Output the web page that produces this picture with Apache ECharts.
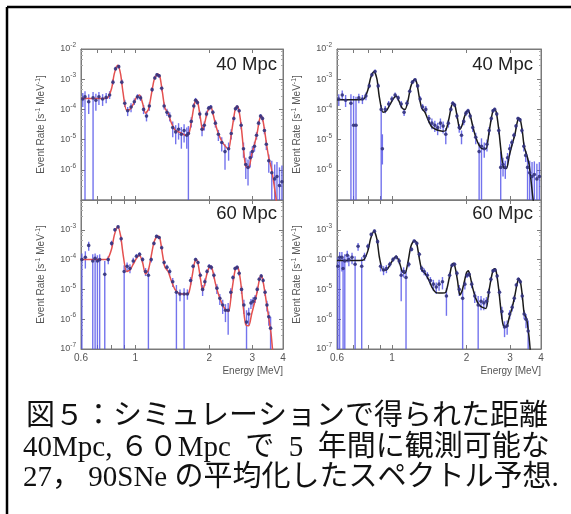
<!DOCTYPE html>
<html><head><meta charset="utf-8">
<script src="https://cdn.jsdelivr.net/npm/echarts@6.0.0/dist/echarts.min.js"></script>
<style>html,body{margin:0;padding:0;background:#fff}#c{width:571px;height:514px}</style>
</head><body><div id="c"></div><script>
// ---------- data ----------
const modelE = [0.60,0.65,0.70,0.74,0.77,0.80,0.82,0.847,0.87,0.89,0.92,0.95,0.98,1.01,1.04,1.07,1.10,1.13,1.16,1.19,1.215,1.238,1.26,1.29,1.32,1.36,1.40,1.45,1.50,1.55,1.60,1.65,1.70,1.74,1.771,1.80,1.84,1.88,1.92,1.96,2.00,2.034,2.07,2.12,2.18,2.25,2.32,2.40,2.46,2.52,2.56,2.598,2.64,2.70,2.76,2.82,2.90,2.98,3.06,3.14,3.20,3.253,3.30,3.36,3.42,3.50,3.58,3.65,3.72,3.80];

const model40Red = [2.3e-4,2.3e-4,2.3e-4,2.3e-4,2.4e-4, 5.0e-4,1.5e-3,2.9e-3,1.5e-3,3.7e-4, 9.5e-5,1.0e-4,1.5e-4,2.5e-4,3.0e-4, 1.6e-4,7.5e-5,1.0e-4,2.9e-4,9.0e-4, 1.3e-3,1.5e-3,1.2e-3,3.5e-4,1.1e-4, 7.5e-5,3.7e-5,2.1e-5,1.8e-5,1.6e-5, 1.4e-5,1.5e-5,5.0e-5,1.5e-4,2.1e-4, 1.6e-4,5.4e-5,2.0e-5,3.7e-5,7.6e-5, 1.1e-4,1.2e-4,7.6e-5,3.3e-5,1.6e-5, 9.0e-6,6.2e-6,4.8e-6,1.5e-5,5.4e-5, 1.1e-4,1.26e-4,1.0e-4,2.9e-5,4.8e-6, 1.3e-6,1.2e-6,3.2e-6,6.9e-6,1.7e-5, 4.2e-5,6.2e-5,5.0e-5,2.2e-5,7.9e-6, 2.5e-6,1.2e-6,4.8e-7,1.7e-7,5e-8];

const model40Black = [2.1e-4,2.1e-4,2.1e-4,2.1e-4,2.2e-4, 4.5e-4,1.1e-3,1.8e-3,1.0e-3,2.5e-4, 8.0e-5,9.0e-5,1.4e-4,2.2e-4,2.8e-4, 1.8e-4,1.1e-4,1.0e-4,1.9e-4,5.5e-4, 8.5e-4,9.8e-4,7.5e-4,2.5e-4,1.1e-4, 8.0e-5,4.5e-5,2.6e-5,2.2e-5,2.0e-5, 1.9e-5,2.0e-5,5.0e-5,1.3e-4,1.6e-4, 1.3e-4,5.0e-5,2.2e-5,3.0e-5,5.5e-5, 8.5e-5,9.0e-5,6.5e-5,2.8e-5,1.2e-5, 6.5e-6,5.0e-6,5.0e-6,1.5e-5,5.0e-5, 9.0e-5,1.0e-4,8.0e-5,2.2e-5,4.0e-6, 1.2e-6,1.1e-6,3.0e-6,7.0e-6,1.5e-5, 3.5e-5,5.2e-5,4.5e-5,2.0e-5,6.0e-6, 3.2e-6,1.5e-6,4.0e-7,1.0e-7,4e-8];

const model60Red = [1.0e-4,1.0e-4,1.0e-4,1.0e-4,1.05e-4, 2.3e-4,6.5e-4,1.3e-3,6.5e-4,1.6e-4, 4.0e-5,4.5e-5,7.0e-5,1.1e-4,1.4e-4, 8.0e-5,3.3e-5,4.5e-5,1.3e-4,3.8e-4, 5.5e-4,6.2e-4,5.0e-4,1.5e-4,5.5e-5, 4.0e-5,2.0e-5,1.0e-5,7.5e-6,7.0e-6, 7.0e-6,7.5e-6,2.5e-5,7.5e-5,1.0e-4, 7.5e-5,2.5e-5,9.0e-6,1.6e-5,3.5e-5, 5.5e-5,6.0e-5,4.0e-5,1.6e-5,7.0e-6, 3.5e-6,2.2e-6,1.8e-6,6.5e-6,2.5e-5, 5.0e-5,5.8e-5,4.5e-5,1.3e-5,2.2e-6, 6.5e-7,6.0e-7,1.5e-6,3.5e-6,8.5e-6, 2.0e-5,2.9e-5,2.3e-5,1.0e-5,3.8e-6, 1.1e-6,3.0e-7,6e-8,4e-8,3e-8];

const model60Black = [9.3e-5,9.3e-5,9.3e-5,9.3e-5,9.8e-5, 2.0e-4,5.0e-4,9.0e-4,4.8e-4,1.2e-4, 4.5e-5,4.5e-5,6.5e-5,1.0e-4,1.3e-4, 8.5e-5,4.0e-5,3.5e-5,8.0e-5,2.6e-4, 3.9e-4,4.3e-4,3.4e-4,1.1e-4,4.5e-5, 3.5e-5,2.3e-5,1.2e-5,8.0e-6,7.5e-6, 7.5e-6,8.0e-6,2.2e-5,6.0e-5,7.5e-5, 5.5e-5,2.0e-5,6.5e-6,9.0e-6,1.8e-5, 3.6e-5,4.2e-5,2.8e-5,1.1e-5,5.0e-6, 3.0e-6,2.5e-6,2.3e-6,8.0e-6,2.5e-5, 4.3e-5,4.9e-5,3.8e-5,1.0e-5,1.8e-6, 6.0e-7,5.5e-7,1.2e-6,2.5e-6,6.5e-6, 1.5e-5,2.3e-5,1.9e-5,6.5e-6,1.6e-6, 1.0e-6,2.5e-7,5e-8,4e-8,3e-8];

// simulated data points: [energy, rate, lower, upper]  (lower 1e-8 = bar reaches the bottom)
const pts40Red = [
[0.61,2.2e-4,1.2e-4,3.5e-4],[0.623,2.6e-4,1e-8,4.0e-4],[0.645,1.8e-4,7e-5,3.2e-4],[0.672,2.4e-4,1e-8,3.8e-4],[0.69,2.0e-4,9e-5,3.3e-4],
[0.71,2.6e-4,1.4e-4,3.8e-4],[0.735,2.2e-4,1.3e-4,3.2e-4],[0.76,2.5e-4,1.6e-4,3.5e-4],[0.785,3.0e-4,2.2e-4,4.0e-4],[0.81,8e-4,6.5e-4,1e-3],
[0.83,2.2e-3,1.9e-3,2.6e-3],[0.855,2.6e-3,2.3e-3,3.0e-3],[0.88,8e-4,6.5e-4,1e-3],[0.905,1.6e-4,1.2e-4,2.1e-4],[0.93,9e-5,6e-5,1.2e-4],
[0.96,1.2e-4,8e-5,1.6e-4],[0.99,1.8e-4,1.4e-4,2.3e-4],[1.02,2.6e-4,2.1e-4,3.2e-4],[1.05,2.4e-4,1.9e-4,3.0e-4],[1.08,1.0e-4,7e-5,1.4e-4],
[1.11,6e-5,4e-5,8.5e-5],[1.14,1.3e-4,9e-5,1.7e-4],[1.17,4.5e-4,3.8e-4,5.5e-4],[1.2,1.1e-3,9.5e-4,1.3e-3],[1.225,1.4e-3,1.2e-3,1.6e-3],
[1.25,1.3e-3,1.1e-3,1.5e-3],[1.28,5e-4,4e-4,6e-4],[1.31,1.3e-4,1e-4,1.7e-4],[1.345,8e-5,6e-5,1.05e-4],[1.38,6e-5,4e-5,8e-5],
[1.42,2.5e-5,1.2e-5,4e-5],[1.46,1.8e-5,7e-6,3e-5],[1.5,2.2e-5,1e-5,3.5e-5],[1.54,1.5e-5,5e-6,2.6e-5],[1.58,2.0e-5,8e-6,3.2e-5],
[1.62,1.4e-5,5e-6,2.5e-5],[1.645,1.6e-5,1e-8,2.8e-5],[1.69,4e-5,2.5e-5,5.5e-5],[1.73,1.3e-4,1.05e-4,1.6e-4],[1.76,2.0e-4,1.7e-4,2.4e-4],
[1.79,1.7e-4,1.4e-4,2.0e-4],[1.83,7e-5,5e-5,9e-5],[1.87,2.2e-5,1.3e-5,3e-5],[1.91,3e-5,2e-5,4e-5],[1.95,7e-5,5.5e-5,9e-5],
[1.99,1.1e-4,9e-5,1.3e-4],[2.03,1.2e-4,1e-4,1.4e-4],[2.07,8e-5,6.5e-5,9.5e-5],[2.12,3.5e-5,2.5e-5,4.5e-5],[2.18,1.5e-5,9e-6,2.1e-5],
[2.25,8e-6,4e-6,1.2e-5],[2.32,4e-6,1e-6,7e-6],[2.4,5e-6,2e-6,8e-6],[2.46,1.6e-5,1e-5,2.2e-5],[2.52,5e-5,4e-5,6e-5],
[2.56,1.05e-4,9e-5,1.2e-4],[2.6,1.2e-4,1e-4,1.4e-4],[2.65,9e-5,7.5e-5,1.05e-4],[2.7,3e-5,2.2e-5,3.8e-5],[2.76,5e-6,2.5e-6,8e-6],
[2.82,1.5e-6,5e-7,2.5e-6],[2.88,1.2e-6,3e-7,2.2e-6],[2.94,2.5e-6,1.2e-6,4e-6],[3.0,4e-6,2.5e-6,6e-6],[3.06,6e-6,4e-6,8.5e-6],
[3.12,1.4e-5,1e-5,1.8e-5],[3.18,3.5e-5,2.8e-5,4.2e-5],[3.24,6e-5,5e-5,7e-5],[3.3,5e-5,4e-5,6e-5],[3.36,2e-5,1.5e-5,2.6e-5],
[3.42,7e-6,4.5e-6,9.5e-6],[3.5,2e-6,8e-7,3.2e-6],[3.6,8e-7,1e-8,2e-6],[3.7,5e-7,1e-8,1.5e-6],[3.78,6e-7,1e-8,1.8e-6],
[3.87,3e-7,1e-8,1.2e-6],[3.96,4e-7,1e-8,1.4e-6]];

const pts40Black = [
[0.61,2.2e-4,1.3e-4,3.2e-4],[0.63,3.0e-4,2.0e-4,4.2e-4],[0.65,2.0e-4,1.2e-4,3.0e-4],[0.683,1.6e-4,1e-8,3.2e-4],[0.70,3.0e-5,1e-8,2.8e-4],
[0.716,3.0e-5,1e-8,2.6e-4],[0.735,2.4e-4,1.6e-4,3.3e-4],[0.76,2.2e-4,1.5e-4,3.0e-4],[0.785,2.8e-4,2e-4,3.6e-4],[0.81,6e-4,5e-4,7.2e-4],
[0.83,1.4e-3,1.2e-3,1.65e-3],[0.855,1.8e-3,1.55e-3,2.1e-3],[0.88,6e-4,5e-4,7.2e-4],[0.905,1.0e-4,1e-8,1.4e-4],[0.915,5e-6,1.5e-6,1.5e-5],
[0.94,1.0e-4,7.5e-5,1.3e-4],[0.97,1.5e-4,1.2e-4,1.9e-4],[1.0,2.2e-4,1.8e-4,2.7e-4],[1.03,3.0e-4,2.5e-4,3.6e-4],[1.06,2.4e-4,1.9e-4,2.9e-4],
[1.09,1.5e-4,1.1e-4,1.9e-4],[1.12,8e-5,6e-5,1.05e-4],[1.15,1.6e-4,1.3e-4,2e-4],[1.18,4e-4,3.4e-4,4.7e-4],[1.21,8e-4,7e-4,9.2e-4],
[1.24,9.5e-4,8.4e-4,1.08e-3],[1.27,6e-4,5.2e-4,7e-4],[1.3,2.2e-4,1.8e-4,2.7e-4],[1.33,1.2e-4,9e-5,1.5e-4],[1.37,1.0e-4,7.5e-5,1.3e-4],
[1.41,5e-5,3.5e-5,6.5e-5],[1.45,3.5e-5,2.2e-5,5e-5],[1.49,3.0e-5,1.8e-5,4.2e-5],[1.53,2.5e-5,1.4e-5,3.6e-5],[1.57,3.5e-5,2.2e-5,5e-5],
[1.61,2.8e-5,1.6e-5,4e-5],[1.65,1.5e-5,7e-6,2.4e-5],[1.69,3.5e-5,2.5e-5,4.5e-5],[1.73,1.0e-4,8.5e-5,1.2e-4],[1.76,1.6e-4,1.4e-4,1.85e-4],
[1.79,1.4e-4,1.2e-4,1.65e-4],[1.83,6e-5,4.8e-5,7.5e-5],[1.87,2.5e-5,1.7e-5,3.3e-5],[1.91,1.4e-5,7e-6,2e-5],[1.95,4e-5,3e-5,5e-5],
[1.99,7.5e-5,6e-5,9e-5],[2.03,9e-5,7.5e-5,1.05e-4],[2.07,6e-5,4.8e-5,7.2e-5],[2.12,2.5e-5,1.8e-5,3.2e-5],[2.18,1.2e-5,7e-6,1.7e-5],
[2.25,4e-6,1e-8,8e-6],[2.3,6e-6,1e-8,1.1e-5],[2.36,5e-6,2.5e-6,8e-6],[2.42,7e-6,4e-6,1e-5],[2.47,2e-5,1.4e-5,2.6e-5],
[2.52,5e-5,4e-5,6e-5],[2.56,9e-5,7.8e-5,1.03e-4],[2.6,1.0e-4,8.8e-5,1.13e-4],[2.65,7e-5,6e-5,8e-5],[2.7,2e-5,1.5e-5,2.6e-5],
[2.75,1.2e-6,1e-8,4e-6],[2.81,1.5e-6,6e-7,2.5e-6],[2.87,1.2e-6,5e-7,2e-6],[2.93,2.5e-6,1.4e-6,3.6e-6],[2.99,5e-6,3e-6,7e-6],
[3.05,8e-6,6e-6,1.0e-5],[3.11,1.4e-5,1.1e-5,1.7e-5],[3.17,2.8e-5,2.3e-5,3.3e-5],[3.23,5e-5,4.3e-5,5.7e-5],[3.29,4.5e-5,3.8e-5,5.2e-5],
[3.35,2e-5,1.6e-5,2.4e-5],[3.41,6e-6,4e-6,8e-6],[3.47,3e-6,1.8e-6,4.2e-6],[3.53,1.2e-6,1e-8,2.5e-6],[3.6,8e-7,1e-8,2e-6],
[3.68,6e-7,1e-8,1.8e-6],[3.76,7e-7,1e-8,1.9e-6],[3.85,5e-7,1e-8,1.6e-6],[3.94,6e-7,1e-8,1.8e-6]];

const pts60Red = [
[0.605,1.0e-4,1e-8,1.6e-4],[0.625,1.2e-4,5e-5,1.9e-4],[0.645,3.0e-4,2e-4,4e-4],[0.67,9e-5,1e-8,1.5e-4],[0.685,1.1e-4,1e-8,1.6e-4],
[0.70,9e-5,1e-8,1.4e-4],[0.715,1.0e-4,1e-8,1.5e-4],[0.75,3.2e-5,1e-8,9e-5],[0.775,1.0e-4,7e-5,1.3e-4],[0.80,3.5e-4,2.8e-4,4.3e-4],
[0.825,1.0e-3,8.5e-4,1.15e-3],[0.85,1.25e-3,1.1e-3,1.4e-3],[0.875,5e-4,4e-4,6e-4],[0.90,4e-5,1e-8,6.5e-5],[0.925,6e-5,4e-5,8e-5],
[0.95,5e-5,3.5e-5,7e-5],[0.98,9e-5,7e-5,1.15e-4],[1.01,1.3e-4,1.05e-4,1.55e-4],[1.04,1.5e-4,1.25e-4,1.75e-4],[1.07,1.0e-4,8e-5,1.2e-4],
[1.1,4e-5,2.8e-5,5.2e-5],[1.13,3e-5,1e-8,5e-5],[1.16,1e-4,8e-5,1.2e-4],[1.19,3.5e-4,3e-4,4e-4],[1.22,6e-4,5.3e-4,6.8e-4],
[1.25,5.5e-4,4.8e-4,6.2e-4],[1.28,2.5e-4,2.1e-4,3e-4],[1.31,8e-5,6.5e-5,9.5e-5],[1.345,5.5e-5,4.3e-5,6.7e-5],[1.38,4e-5,3e-5,5e-5],
[1.42,1.8e-5,1.2e-5,2.4e-5],[1.47,8e-6,1e-8,1.4e-5],[1.52,7e-6,4e-6,1e-5],[1.58,7e-6,1e-8,1.1e-5],[1.63,7e-6,4.5e-6,1e-5],
[1.68,2e-5,1.4e-5,2.6e-5],[1.72,6e-5,5e-5,7e-5],[1.76,1.0e-4,8.8e-5,1.15e-4],[1.8,8e-5,6.8e-5,9.2e-5],[1.84,3e-5,2.3e-5,3.7e-5],
[1.88,1.0e-5,6e-6,1.4e-5],[1.92,1.8e-5,1.3e-5,2.3e-5],[1.96,4e-5,3.2e-5,4.8e-5],[2.0,6e-5,5e-5,7e-5],[2.04,5.5e-5,4.5e-5,6.5e-5],
[2.09,3e-5,2.3e-5,3.7e-5],[2.15,1.1e-5,7e-6,1.5e-5],[2.21,5e-6,3e-6,7e-6],[2.27,3e-6,1.5e-6,4.5e-6],[2.33,2e-6,8e-7,3.2e-6],
[2.39,2e-6,3e-7,3.5e-6],[2.45,8e-6,5e-6,1.1e-5],[2.5,2.5e-5,2e-5,3e-5],[2.55,5e-5,4.2e-5,5.8e-5],[2.6,5.5e-5,4.6e-5,6.4e-5],
[2.65,3.5e-5,2.8e-5,4.2e-5],[2.71,1e-5,7e-6,1.3e-5],[2.77,3e-6,1.5e-6,4.5e-6],[2.84,8e-7,1e-8,2e-6],[2.9,1.5e-6,6e-7,2.4e-6],
[2.96,3.5e-6,2.2e-6,4.8e-6],[3.02,4e-6,2.6e-6,5.4e-6],[3.08,5e-6,3.5e-6,6.5e-6],[3.14,1.0e-5,7.5e-6,1.25e-5],[3.2,2.2e-5,1.8e-5,2.6e-5],
[3.26,2.8e-5,2.3e-5,3.3e-5],[3.32,2e-5,1.6e-5,2.4e-5],[3.38,8e-6,6e-6,1e-5],[3.44,3e-6,1.8e-6,4.2e-6],[3.5,1.2e-6,6e-7,1.8e-6],
[3.56,5e-7,1e-8,1.2e-6]];

const pts60Black = [
[0.605,6e-5,1e-8,1.2e-4],[0.615,1.2e-4,1e-8,1.8e-4],[0.628,1.2e-4,4e-5,1.8e-4],[0.635,5e-5,1e-8,1.1e-4],[0.645,9e-5,1e-8,1.5e-4],
[0.66,1.4e-4,8e-5,2e-4],[0.67,1.0e-4,6e-5,1.4e-4],[0.69,1.2e-4,7e-5,1.7e-4],[0.71,7e-5,1e-8,1.3e-4],[0.73,2.8e-4,2e-4,3.6e-4],
[0.755,6e-5,1e-8,1.2e-4],[0.775,1.3e-4,9e-5,1.7e-4],[0.8,2.8e-4,2.2e-4,3.4e-4],[0.825,7e-4,6e-4,8e-4],[0.85,9e-4,7.8e-4,1.02e-3],
[0.875,4e-4,3.3e-4,4.8e-4],[0.9,6e-5,4e-5,8e-5],[0.925,4.5e-5,3e-5,6e-5],[0.95,5e-5,3.5e-5,6.5e-5],[0.98,7e-5,5.5e-5,8.5e-5],
[1.01,1.0e-4,8.5e-5,1.2e-4],[1.04,1.2e-4,1e-4,1.4e-4],[1.07,9e-5,7e-5,1.1e-4],[1.09,3e-5,4e-6,5e-5],[1.115,4e-5,2.5e-5,5.5e-5],
[1.14,2.5e-5,1e-8,4.5e-5],[1.17,7e-5,5.5e-5,8.5e-5],[1.2,2.2e-4,1.9e-4,2.6e-4],[1.23,4.2e-4,3.7e-4,4.7e-4],[1.26,3.5e-4,3e-4,4e-4],
[1.29,1.5e-4,1.2e-4,1.8e-4],[1.32,5e-5,3.8e-5,6.2e-5],[1.35,4e-5,3e-5,5e-5],[1.39,3e-5,2.2e-5,3.8e-5],[1.43,2e-5,1.4e-5,2.6e-5],
[1.47,1.5e-5,9e-6,2.1e-5],[1.51,1.2e-5,7e-6,1.7e-5],[1.55,1.5e-5,9e-6,2.1e-5],[1.6,1.8e-5,1e-5,2.6e-5],[1.66,6e-6,1.3e-6,1.1e-5],
[1.71,3e-5,2.3e-5,3.7e-5],[1.75,6.5e-5,5.5e-5,7.5e-5],[1.79,7e-5,6e-5,8e-5],[1.83,3.5e-5,2.8e-5,4.2e-5],[1.87,1.0e-5,6e-6,1.4e-5],
[1.93,5e-6,1e-8,1e-5],[1.97,1.5e-5,1e-5,2e-5],[2.01,3e-5,2.4e-5,3.6e-5],[2.05,3.2e-5,2.6e-5,3.8e-5],[2.1,1.5e-5,1.1e-5,1.9e-5],
[2.16,6e-6,3.5e-6,8.5e-6],[2.23,3e-6,1e-8,6e-6],[2.29,4e-6,2e-6,6e-6],[2.35,3.5e-6,2e-6,5e-6],[2.41,4e-6,2.5e-6,5.5e-6],
[2.46,8e-6,5.5e-6,1.05e-5],[2.51,2.2e-5,1.8e-5,2.6e-5],[2.56,4.2e-5,3.6e-5,4.8e-5],[2.61,4.5e-5,3.8e-5,5.2e-5],[2.66,2.8e-5,2.3e-5,3.3e-5],
[2.72,8e-6,6e-6,1e-5],[2.78,1.8e-6,1e-6,2.6e-6],[2.85,5.5e-7,2.5e-7,8.5e-7],[2.92,6e-7,3e-7,9e-7],[2.99,1.5e-6,1e-6,2e-6],
[3.06,2.5e-6,1.8e-6,3.2e-6],[3.12,5e-6,3.8e-6,6.2e-6],[3.18,1.4e-5,1.15e-5,1.65e-5],[3.24,2.2e-5,1.9e-5,2.5e-5],[3.3,1.8e-5,1.5e-5,2.1e-5],
[3.36,6e-6,4.5e-6,7.5e-6],[3.42,1.5e-6,1e-6,2e-6],[3.48,1e-6,5e-7,1.5e-6],[3.55,4e-7,1e-8,9e-7]];

const xTickValues = [0.7, 0.8, 0.9, 1, 2, 3];
const xLabelValues = [0.6, 1, 2, 3, 4];
const yLabelTop = [1e-2, 1e-3, 1e-4, 1e-5, 1e-6];
const yLabelBottom = [1e-3, 1e-4, 1e-5, 1e-6, 1e-7];
const panelLabels = ['40 Mpc', '40 Mpc', '60 Mpc', '60 Mpc'];
const yAxisTitle = 'Event Rate [s{s|-1} MeV{s|-1}]';
const xAxisTitle = 'Energy [MeV]';
const captionLines = [
  '図５：シミュレーションで得られた距離',
  '40Mpc, ６０Mpc  で  5  年間に観測可能な',
  '27， 90SNe の平均化したスペクトル予想.'
];

// ---------- layout / style ----------
const panels = [
  {grid:{left:81, top:49, width:202, height:151}, model:model40Red, pts:pts40Red, color:'#e4504f', bottomRow:false, labelX:277, labelY:65},
  {grid:{left:337, top:49, width:204, height:151}, model:model40Black, pts:pts40Black, color:'#1a1a1a', bottomRow:false, labelX:533, labelY:65},
  {grid:{left:81, top:200, width:202, height:149}, model:model60Red, pts:pts60Red, color:'#e4504f', bottomRow:true, labelX:277, labelY:214},
  {grid:{left:337, top:200, width:204, height:149}, model:model60Black, pts:pts60Black, color:'#1a1a1a', bottomRow:true, labelX:533, labelY:214}
];
const axisGray = '#7a7a7a';
const textGray = '#555';
const barColor = 'rgba(80,80,232,0.8)';
const dotColor = '#33337e';
const supRich = {
  b: {fontSize: 9, color: textGray, fontFamily: 'Liberation Sans'},
  s: {fontSize: 6.5, color: textGray, fontFamily: 'Liberation Sans', padding: [0, 0, 7, 0]}
};
function yFmt(v) {
  const e = Math.round(Math.log10(v));
  return '{b|10}{s|' + e + '}';
}
function xFmt(v) { return String(+(+v).toPrecision(3)); }

const grid = [], xAxis = [], yAxis = [], series = [], graphic = [];
panels.forEach((p, i) => {
  grid.push(Object.assign({show: true, borderColor: axisGray, borderWidth: 1, backgroundColor: 'transparent', outerBoundsMode: 'none', containLabel: false}, p.grid));
  xAxis.push({
    type: 'log', logBase: 10, gridIndex: i, min: 0.6, max: 4, position: 'bottom',
    axisLine: {show: true, onZero: false, lineStyle: {color: axisGray, width: 1}},
    axisTick: {show: true, inside: true, length: 4, customValues: xTickValues, lineStyle: {color: axisGray}},
    axisLabel: {show: p.bottomRow, customValues: xLabelValues, formatter: xFmt, fontSize: 10, color: textGray, margin: 4, fontFamily: 'Liberation Sans'},
    splitLine: {show: false}, minorTick: {show: false},
    name: p.bottomRow ? xAxisTitle : '', nameLocation: 'end', nameGap: 0,
    nameTextStyle: {align: 'right', verticalAlign: 'top', padding: [17, 0, 0, 0], fontSize: 10, color: textGray, fontFamily: 'Liberation Sans'}
  });
  xAxis.push({
    type: 'log', logBase: 10, gridIndex: i, min: 0.6, max: 4, position: 'top',
    axisLine: {show: true, onZero: false, lineStyle: {color: axisGray, width: 1}},
    axisTick: {show: true, inside: true, length: 4, customValues: xTickValues, lineStyle: {color: axisGray}},
    axisLabel: {show: false}, splitLine: {show: false}
  });
  yAxis.push({
    type: 'log', logBase: 10, gridIndex: i, min: 1e-7, max: 1e-2, position: 'left',
    axisLine: {show: true, onZero: false, lineStyle: {color: axisGray, width: 1}},
    axisTick: {show: true, inside: true, length: 4, lineStyle: {color: axisGray}},
    minorTick: {show: true, splitNumber: 5, length: 2, lineStyle: {color: '#aaa'}},
    axisLabel: {formatter: yFmt, rich: supRich, margin: 5,
      customValues: p.bottomRow ? yLabelBottom : yLabelTop},
    splitLine: {show: false},
    name: yAxisTitle, nameLocation: 'middle', nameGap: 33,
    nameTextStyle: {fontSize: 10, color: textGray, fontFamily: 'Liberation Sans',
      rich: {s: {fontSize: 7, color: textGray, fontFamily: 'Liberation Sans', padding: [0, 0, 6, 0]}}}
  });
  yAxis.push({
    type: 'log', logBase: 10, gridIndex: i, min: 1e-7, max: 1e-2, position: 'right',
    axisLine: {show: true, onZero: false, lineStyle: {color: axisGray, width: 1}},
    axisTick: {show: true, inside: true, length: 4, lineStyle: {color: axisGray}},
    minorTick: {show: true, splitNumber: 5, length: 2, lineStyle: {color: '#aaa'}},
    axisLabel: {show: false}, splitLine: {show: false}
  });
  const xi = 2 * i, yi = 2 * i;
  series.push({
    type: 'custom', xAxisIndex: xi, yAxisIndex: yi, clip: true, z: 2,
    data: p.pts, encode: {x: 0, y: 1},
    renderItem: function (params, api) {
      const cs = params.coordSys;
      const e = api.value(0);
      const top = api.coord([e, api.value(3)]);
      const bot = api.coord([e, api.value(2)]);
      const y1 = Math.max(top[1], cs.y);
      const y2 = Math.min(bot[1], cs.y + cs.height);
      return {type: 'line', shape: {x1: top[0], y1: y1, x2: top[0], y2: y2},
        style: {stroke: barColor, lineWidth: 1.4}};
    }
  });
  series.push({
    type: 'line', xAxisIndex: xi, yAxisIndex: yi, z: 3,
    data: modelE.map((e, k) => [e, p.model[k]]),
    showSymbol: false, smooth: 0.25, clip: true,
    lineStyle: {color: p.color, width: 1.5}, silent: true
  });
  series.push({
    type: 'scatter', xAxisIndex: xi, yAxisIndex: yi, z: 4,
    data: p.pts.map(d => [d[0], d[1]]),
    symbol: 'circle', symbolSize: 3.6, clip: true,
    itemStyle: {color: dotColor, opacity: 0.9}, silent: true
  });
  graphic.push({type: 'text', x: p.labelX, y: p.labelY, z: 10,
    style: {text: panelLabels[i], font: '18.5px "Liberation Sans", Arial, sans-serif', fill: '#222',
      textAlign: 'right', textVerticalAlign: 'middle', align: 'right', verticalAlign: 'middle'}});
});

// frame lines and caption
graphic.push({type: 'line', shape: {x1: 7, y1: 7, x2: 571, y2: 7}, style: {stroke: '#000', lineWidth: 2.5}});
graphic.push({type: 'line', shape: {x1: 7, y1: 7, x2: 7, y2: 514}, style: {stroke: '#000', lineWidth: 2.5}});
const captionX = [26, 23, 23];
const captionY = [417, 448, 478];
captionLines.forEach((t, k) => {
  graphic.push({type: 'text', x: captionX[k], y: captionY[k],
    style: {text: t, font: '29px "Liberation Serif", "Noto Sans CJK JP", serif', fill: '#111',
      textAlign: 'left', textVerticalAlign: 'middle', align: 'left', verticalAlign: 'middle'}});
});

const chart = echarts.init(document.getElementById('c'), null, {renderer: 'canvas'});
chart.setOption({
  animation: false, backgroundColor: '#fff',
  grid, xAxis, yAxis, series, graphic
});
</script></body></html>
